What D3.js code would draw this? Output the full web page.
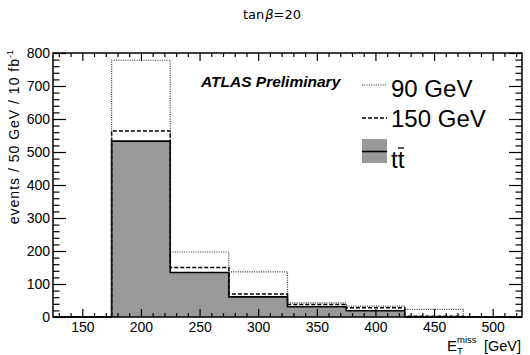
<!DOCTYPE html>
<html>
  <head>
    <meta charset="UTF-8">
    <title>MET distribution tan beta = 20</title>
    <script src="https://d3js.org/d3.v7.min.js"></script>
    <style>
      body { margin: 0; background: #fff; }
      text { font-family: "Liberation Sans", Arial, sans-serif; fill: #000; }
    </style>
  </head>
  <body>
    <div id="graph"></div>
    <script>

// bin edges (GeV) and contents
const binEdges = [125, 175, 225, 275, 325, 375, 425, 475, 525];
const ttbar = [0, 533, 135, 61, 31, 19, 0, 0];
const mass150 = [0, 564, 150, 70, 38, 28, 2, 0];
const mass90 = [0, 778, 197, 137, 43, 33, 23, 0];
const xTicks = [150, 200, 250, 300, 350, 400, 450, 500];
const yTicks = [0, 100, 200, 300, 400, 500, 600, 700, 800];

const svgWidth = 530;
const svgHeight = 355;
const margin = {top: 53, right: 8, bottom: 38, left: 53};
const chartWidth = svgWidth - margin.left - margin.right;
const chartHeight = svgHeight - margin.top - margin.bottom;

const svg = d3.select("#graph")
  .append("svg")
  .attr("width", svgWidth)
  .attr("height", svgHeight);

const chart = svg.append("g")
  .attr("transform", "translate(" + margin.left + "," + margin.top + ")");

const x = d3.scaleLinear().domain([125, 525]).range([0, chartWidth]);
const y = d3.scaleLinear().domain([0, 800]).range([chartHeight, 0]);

// step outline of a histogram
function stepPath(vals) {
  const pts = [[x(binEdges[0]), y(0)]];
  vals.forEach((v, i) => {
    pts.push([x(binEdges[i]), y(v)]);
    pts.push([x(binEdges[i + 1]), y(v)]);
  });
  pts.push([x(binEdges[binEdges.length - 1]), y(0)]);
  return d3.line()(pts);
}

// filled ttbar histogram
chart.append("path")
  .attr("d", stepPath(ttbar))
  .attr("fill", "#999")
  .attr("stroke", "#000")
  .attr("stroke-width", 1.6);

chart.append("path")
  .attr("d", stepPath(mass150))
  .attr("fill", "none")
  .attr("stroke", "#000")
  .attr("stroke-width", 1.5)
  .attr("stroke-dasharray", "4,2");

chart.append("path")
  .attr("d", stepPath(mass90))
  .attr("fill", "none")
  .attr("stroke", "#333")
  .attr("stroke-width", 1.2)
  .attr("stroke-dasharray", "1,1.3");

// frame
chart.append("rect")
  .attr("width", chartWidth)
  .attr("height", chartHeight)
  .attr("fill", "none")
  .attr("stroke", "#000")
  .attr("stroke-width", 1.5);

const xMinor = d3.range(130, 525, 10).filter(v => v % 50 !== 0);
const yMinor = d3.range(20, 800, 20).filter(v => v % 100 !== 0);

function tickStyle(g) {
  g.select(".domain").remove();
  g.selectAll("line").attr("stroke", "#000").attr("stroke-width", 1.2);
}

// x axis (bottom + mirrored top)
chart.append("g")
  .attr("transform", "translate(0," + chartHeight + ")")
  .call(d3.axisBottom(x).tickValues(xTicks).tickSize(-8).tickPadding(5))
  .call(tickStyle)
  .call(g => g.selectAll("text").attr("font-size", 14).attr("font-family", "Liberation Sans, Arial"));
chart.append("g")
  .attr("transform", "translate(0," + chartHeight + ")")
  .call(d3.axisBottom(x).tickValues(xMinor).tickSize(-4).tickFormat(""))
  .call(tickStyle);
chart.append("g")
  .call(d3.axisTop(x).tickValues(xTicks).tickSize(-8).tickFormat(""))
  .call(tickStyle);
chart.append("g")
  .call(d3.axisTop(x).tickValues(xMinor).tickSize(-4).tickFormat(""))
  .call(tickStyle);

// y axis (left + mirrored right)
chart.append("g")
  .call(d3.axisLeft(y).tickValues(yTicks).tickSize(-13).tickPadding(3))
  .call(tickStyle)
  .call(g => g.selectAll("text").attr("font-size", 14).attr("font-family", "Liberation Sans, Arial"));
chart.append("g")
  .call(d3.axisLeft(y).tickValues(yMinor).tickSize(-6.5).tickFormat(""))
  .call(tickStyle);
chart.append("g")
  .attr("transform", "translate(" + chartWidth + ",0)")
  .call(d3.axisRight(y).tickValues(yTicks).tickSize(-13).tickFormat(""))
  .call(tickStyle);
chart.append("g")
  .attr("transform", "translate(" + chartWidth + ",0)")
  .call(d3.axisRight(y).tickValues(yMinor).tickSize(-6.5).tickFormat(""))
  .call(tickStyle);

// title
const title = svg.append("text")
  .attr("x", 272)
  .attr("y", 19)
  .attr("text-anchor", "middle")
  .attr("font-size", 13)
  .style("font-family", "DejaVu Sans, sans-serif");
title.append("tspan").text("tan");
title.append("tspan").attr("font-style", "italic").attr("dx", 1).text("\u03b2");
title.append("tspan").text("=20");

// y axis title
const yt = svg.append("text")
  .attr("transform", "translate(19,50) rotate(-90)")
  .attr("text-anchor", "end")
  .attr("font-size", 14)
  .attr("letter-spacing", 1);
yt.append("tspan").text("events / 50 GeV / 10 fb");
yt.append("tspan").attr("font-size", 9).attr("dy", -6).attr("letter-spacing", 0).text("-1");

// x axis title
svg.append("text").attr("x", 447).attr("y", 351).attr("font-size", 15).text("E");
svg.append("text").attr("x", 457).attr("y", 343).attr("font-size", 9.5).text("miss");
svg.append("text").attr("x", 457).attr("y", 354).attr("font-size", 9.5).text("T");
svg.append("text").attr("x", 521).attr("y", 351).attr("text-anchor", "end")
  .attr("font-size", 14.5).text("[GeV]");

// ATLAS label
svg.append("text")
  .attr("x", 201)
  .attr("y", 87)
  .attr("font-size", 15.5)
  .attr("font-weight", "bold")
  .attr("font-style", "italic")
  .text("ATLAS Preliminary");

// legend
const legend = svg.append("g");
legend.append("line")
  .attr("x1", 362).attr("x2", 387).attr("y1", 85).attr("y2", 85)
  .attr("stroke", "#333").attr("stroke-width", 1.2).attr("stroke-dasharray", "1,1.3");
legend.append("text").attr("x", 391).attr("y", 97).attr("font-size", 24).text("90 GeV");
legend.append("line")
  .attr("x1", 362).attr("x2", 387).attr("y1", 118).attr("y2", 118)
  .attr("stroke", "#000").attr("stroke-width", 1.5).attr("stroke-dasharray", "4,2");
legend.append("text").attr("x", 391).attr("y", 127).attr("font-size", 24).text("150 GeV");
legend.append("rect")
  .attr("x", 362).attr("y", 139).attr("width", 25).attr("height", 24)
  .attr("fill", "#999");
legend.append("line")
  .attr("x1", 362).attr("x2", 387).attr("y1", 151.5).attr("y2", 151.5)
  .attr("stroke", "#000").attr("stroke-width", 1.6);
const tt = legend.append("text").attr("x", 391).attr("y", 168).attr("font-size", 24);
tt.append("tspan").text("t");
tt.append("tspan").text("t");
const w1 = tt.node().getSubStringLength(0, 1);
const w2 = tt.node().getSubStringLength(1, 1);
legend.append("line")
  .attr("x1", 391 + w1 + 0.3).attr("x2", 391 + w1 + w2 - 0.3)
  .attr("y1", 148).attr("y2", 148)
  .attr("stroke", "#000").attr("stroke-width", 1.3);

    </script>
  </body>
</html>
